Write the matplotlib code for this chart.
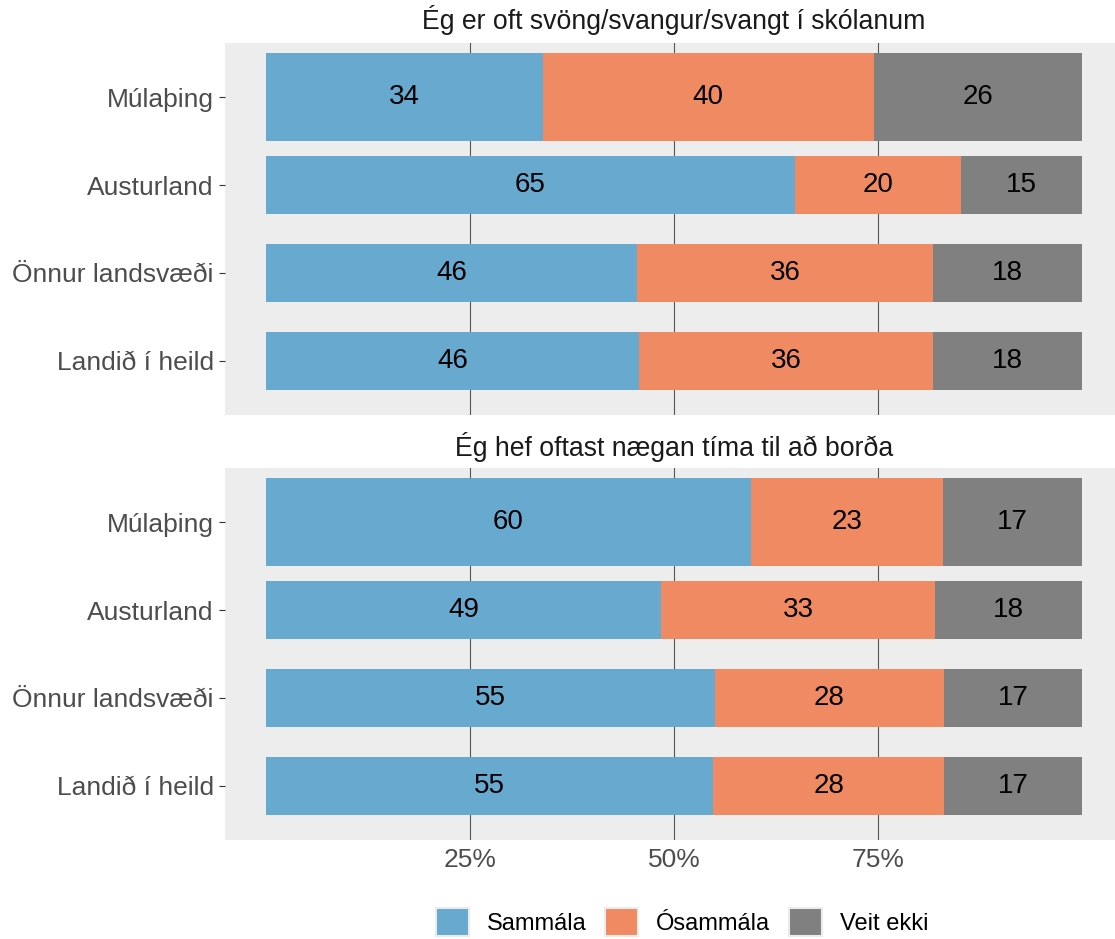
import matplotlib
matplotlib.use("Agg")
import matplotlib.pyplot as plt
from matplotlib.patches import Patch

plt.rcParams['font.family'] = ['Liberation Sans', 'DejaVu Sans']

# ---- data ----
regions = ["Landið í heild", "Önnur landsvæði", "Austurland", "Múlaþing"]  # bottom -> top
bar_widths = [0.65, 0.65, 0.65, 1.0]
titles = ["Ég er oft svöng/svangur/svangt í skólanum",
          "Ég hef oftast nægan tíma til að borða"]
series = ["Sammála", "Ósammála", "Veit ekki"]
colors = ["#67A9CF", "#EF8A62", "#808080"]

# percentages (bottom -> top order, matching regions)
q1_sammala = [45.7, 45.5, 64.8, 33.9]
q1_osammala = [36.0, 36.2, 20.4, 40.6]
q1_veit = [18.3, 18.3, 14.8, 25.5]
q1_labels = [[46, 46, 65, 34], [36, 36, 20, 40], [18, 18, 15, 26]]

q2_sammala = [54.8, 55.0, 48.4, 59.4]
q2_osammala = [28.3, 28.1, 33.6, 23.6]
q2_veit = [16.9, 16.9, 18.0, 17.0]
q2_labels = [[55, 55, 49, 60], [28, 28, 33, 23], [17, 17, 18, 17]]

xticks = [25, 50, 75]
xticklabels = ["25%", "50%", "75%"]

panels = [
    (titles[0], [q1_sammala, q1_osammala, q1_veit], q1_labels),
    (titles[1], [q2_sammala, q2_osammala, q2_veit], q2_labels),
]

W, H = 1115, 939
fig = plt.figure(figsize=(W / 100, H / 100), dpi=100)

panel_tops = [43, 468]
panel_h = 372
px_left, px_right = 225, 1123
title_y = [20, 447]

ypos = [1, 2, 3, 4]
for i, (title, vals, labels) in enumerate(panels):
    top = panel_tops[i]
    ax = fig.add_axes([px_left / W, (H - top - panel_h) / H,
                       (px_right - px_left) / W, panel_h / H])
    ax.set_facecolor("#EDEDED")
    for s in ax.spines.values():
        s.set_visible(False)
    left = [0.0] * 4
    for k, v in enumerate(vals):
        ax.barh(ypos, v, left=left, height=bar_widths, color=colors[k],
                zorder=2, linewidth=0)
        for j in range(4):
            ax.text(left[j] + v[j] / 2, ypos[j], str(labels[k][j]),
                    ha="center", va="center", fontsize=20, color="black",
                    zorder=3)
        left = [a + b for a, b in zip(left, v)]
    ax.set_xlim(-5, 105)
    ax.set_ylim(0.386, 4.614)
    ax.set_yticks(ypos)
    ax.set_yticklabels(regions, fontsize=19, color="#4D4D4D")
    ax.tick_params(axis="y", length=4.5, width=0.8, color="#333333", pad=3.6)
    ax.set_xticks(xticks)
    ax.grid(axis="x", color="#555555", linewidth=0.8, zorder=0)
    ax.set_axisbelow(True)
    if i == 1:
        ax.set_xticklabels(xticklabels, fontsize=19, color="#4D4D4D")
        ax.tick_params(axis="x", length=0, pad=6)
    else:
        ax.tick_params(axis="x", length=0, labelbottom=False)
    fig.text((px_left + px_right) / 2 / W, 1 - title_y[i] / H, title,
             ha="center", va="center", fontsize=19.2, color="#1A1A1A")

handles = [Patch(facecolor=c, edgecolor="#EBEBEB", linewidth=1.5) for c in colors]
fig.legend(handles, series, loc="center", bbox_to_anchor=(682 / W, 1 - 922 / H),
           ncol=3, frameon=False, fontsize=17, handlelength=1.4,
           handleheight=1.4, handletextpad=0.75, columnspacing=0.8)

fig.savefig("out.png", dpi=100)
